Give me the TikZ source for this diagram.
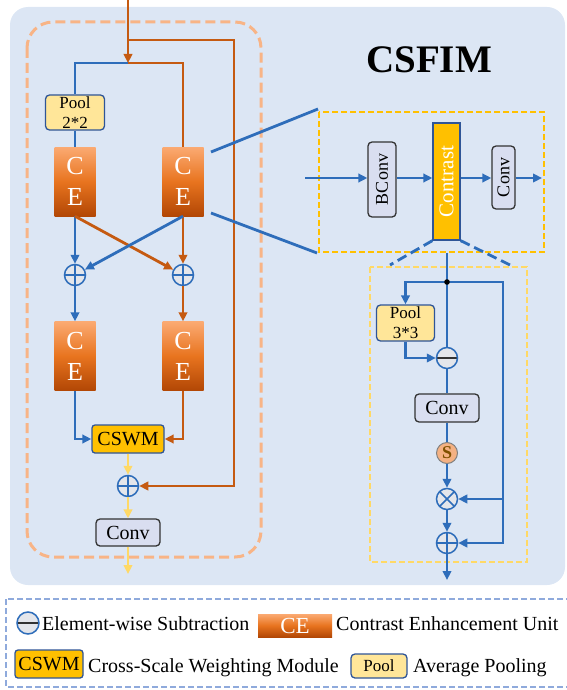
\documentclass[tikz,border=0pt]{standalone}
\usepackage{fontspec}
\setmainfont{Liberation Serif}
\usetikzlibrary{arrows.meta,calc}
\definecolor{bgblue}{HTML}{DCE6F4}
\definecolor{lblue}{HTML}{2E6DBA}
\definecolor{lorange}{HTML}{C55A11}
\definecolor{ylw}{HTML}{FFD966}
\definecolor{gold}{HTML}{FFC000}
\definecolor{dashor}{HTML}{F8B486}
\definecolor{legb}{HTML}{8FAADC}
\definecolor{poolF}{HTML}{FFE699}
\definecolor{boxB}{HTML}{2F5597}
\definecolor{convF}{HTML}{D9DEF0}
\definecolor{convB}{HTML}{333333}
\definecolor{circF}{HTML}{E4E6EB}
\definecolor{ceTop}{HTML}{FBAA72}
\definecolor{ceMid}{HTML}{E8741F}
\definecolor{ceBot}{HTML}{B24705}
\definecolor{sF}{HTML}{F4B183}
\definecolor{sT}{HTML}{7F5000}
\newcommand\fsz[2]{\fontsize{#1}{#2}\selectfont}
\begin{document}
\begin{tikzpicture}[x=1pt,y=-1pt,
  bline/.style={draw=lblue,line width=2.8pt},
  barrow/.style={bline,-{Triangle[length=9pt,width=8.5pt]}},
  oline/.style={draw=lorange,line width=2.8pt},
  oarrow/.style={oline,-{Triangle[length=9pt,width=8.5pt]}},
  yarrow/.style={draw=ylw,line width=2.8pt,-{Triangle[length=9pt,width=8.5pt]}},
  opcirc/.style={circle,draw=lblue,line width=1.5pt,fill=circF,minimum size=21pt,inner sep=0pt},
  plusop/.style={opcirc,path picture={\draw[lblue,line width=1.5pt]
     (path picture bounding box.north)--(path picture bounding box.south)
     (path picture bounding box.west)--(path picture bounding box.east);}},
  timesop/.style={opcirc,path picture={\draw[lblue,line width=1.5pt]
     (path picture bounding box.north west)--(path picture bounding box.south east)
     (path picture bounding box.south west)--(path picture bounding box.north east);}},
  minusop/.style={opcirc,path picture={\draw[convB,line width=1.8pt]
     (path picture bounding box.west)--(path picture bounding box.east);}},
  ceunit/.style={rectangle,inner sep=0pt,minimum width=41pt,minimum height=69pt,
     top color=ceTop,bottom color=ceBot,middle color=ceMid,text=white,align=center,font=\fsz{26}{31}},
  poolbox/.style={rectangle,rounded corners=4pt,draw=boxB,line width=1.3pt,fill=poolF,
     inner sep=0pt,align=center,font=\fsz{17}{20}},
  convbox/.style={rectangle,rounded corners=4pt,draw=convB,line width=1.3pt,fill=convF,
     inner sep=0pt,align=center,font=\fsz{20}{22}},
  goldbox/.style={rectangle,rounded corners=3pt,draw=boxB,line width=1.3pt,fill=gold,
     inner sep=0pt,align=center,font=\fsz{20}{22}},
  legtext/.style={anchor=base west,inner sep=0pt,font=\fsz{20}{22}}
]
\useasboundingbox (0,0) rectangle (566,690);
% backgrounds
\fill[bgblue,rounded corners=18pt] (10,7) rectangle (565,585);
\draw[dashor,line width=3pt,dash pattern=on 10pt off 5pt,rounded corners=26pt] (27,22) rectangle (261,557);
\draw[gold,line width=2pt,dash pattern=on 6pt off 3pt] (319,112) rectangle (544,252);
\draw[ylw,line width=2.2pt,dash pattern=on 6pt off 3pt] (370,267) rectangle (527,562);
\draw[legb,line width=2pt,dash pattern=on 6pt off 3pt] (6,599) rectangle (570,687);

% title
\node[anchor=base,inner sep=0pt,font=\fsz{39}{40}\bfseries] (title) at (429,73) {CSFIM};

% left module nodes
\node[poolbox,minimum width=59pt,minimum height=35pt] (pool22) at (75,112.5) {Pool\\2*2};
\node[ceunit] (ce1) at (75,181.5) {C\\E};
\node[ceunit] (ce2) at (183,181.5) {C\\E};
\node[plusop] (p1) at (75,275) {};
\node[plusop] (p2) at (183,275) {};
\node[ceunit] (ce3) at (75,356) {C\\E};
\node[ceunit] (ce4) at (183,356) {C\\E};
\node[goldbox,minimum width=72pt,minimum height=28pt] (cswm) at (128,439) {CSWM};
\node[plusop] (p3) at (128,486) {};
\node[convbox,minimum width=64pt,minimum height=27pt] (conv1) at (128,532.5) {Conv};

\coordinate (in) at (128,0);
\coordinate (split) at (128,40);
\coordinate (bypass) at (234,40);
\coordinate (j1) at (128,63);
\coordinate (out1) at (128,574);

\draw[oarrow] (in) -- (j1);
\draw[bline] (j1) -| (pool22.north);
\draw[oline] (j1) -| (ce2.north);
\draw[bline] (pool22.south) -- (ce1.north);
\draw[barrow] (ce1.south) -- (p1.north);
\draw[oarrow] (ce2.south) -- (p2.north);
\draw[oarrow] (ce1.south) -- (p2);
\draw[barrow] (ce2.south) -- (p1);
\draw[barrow] (p1.south) -- (ce3.north);
\draw[oarrow] (p2.south) -- (ce4.north);
\draw[barrow] (ce3.south) |- (cswm.west);
\draw[oarrow] (ce4.south) |- (cswm.east);
\draw[oarrow] (split) -- (bypass) |- (p3.east);
\draw[yarrow] (cswm.south) -- (p3.north);
\draw[yarrow] (p3.south) -- (conv1.north);
\draw[yarrow] (conv1.south) -- (out1);

% zoom lines
\coordinate (z1a) at (211,152); \coordinate (z1b) at (318,109);
\coordinate (z2a) at (211,213); \coordinate (z2b) at (317,253);
\draw[bline] (z1a) -- (z1b);
\draw[bline] (z2a) -- (z2b);

% contrast module
\node[convbox,minimum width=28pt,minimum height=75pt,font=\fsz{18}{20}] (bconv) at (382,179.5) {\rotatebox{90}{BConv}};
\node[rectangle,draw=boxB,line width=1.3pt,fill=gold,inner sep=0pt,minimum width=27pt,minimum height=117pt,text=white,font=\fsz{21}{22}] (contrast) at (446.5,181.5) {\rotatebox{90}{Contrast}};
\node[convbox,minimum width=23pt,minimum height=63pt,font=\fsz{18}{20}] (conv2) at (503.5,177.5) {\rotatebox{90}{Conv}};
\coordinate (cin) at (305,178);
\coordinate (cout) at (542,178);
\draw[barrow] (cin) -- (cin -| bconv.west);
\draw[barrow] (bconv.east |- cin) -- (contrast.west |- cin);
\draw[barrow] (contrast.east |- cin) -- (conv2.west |- cin);
\draw[barrow] (conv2.east |- cin) -- (cout);

% dashed zoom lines
\coordinate (d1) at (390,265); \coordinate (d2) at (510,265);
\draw[lblue,line width=2.8pt,dash pattern=on 10pt off 5pt] (contrast.south west) -- (d1);
\draw[lblue,line width=2.8pt,dash pattern=on 10pt off 5pt] (contrast.south east) -- (d2);

% lower module
\node[poolbox,minimum width=58pt,minimum height=36pt] (pool33) at (405.5,323) {Pool\\3*3};
\node[minusop] (mn) at (447,358) {};
\node[convbox,minimum width=64pt,minimum height=28pt] (conv3) at (447,408) {Conv};
\node[circle,draw=gray,line width=1pt,fill=sF,minimum size=21pt,inner sep=0pt,text=sT,font=\fsz{18}{20}\bfseries] (sig) at (447,453) {S};
\node[timesop] (tm) at (447,499) {};
\node[plusop] (p4) at (447,543) {};
\coordinate (cst) at (447,253);
\coordinate (dot) at (447,282);
\coordinate (rc) at (503,282);
\coordinate (rt) at (503,499);
\coordinate (out2) at (447,580);

\draw[bline] (cst) -- (mn.north);
\draw[barrow] (dot) -| (pool33.north);
\draw[barrow] (pool33.south) |- (mn.west);
\draw[barrow] (dot) -- (rc) |- (p4.east);
\draw[barrow] (rt) -- (tm.east);
\draw[bline] (mn.south) -- (conv3.north);
\draw[bline] (conv3.south) -- (sig.north);
\draw[barrow] (sig.south) -- (tm.north);
\draw[barrow] (tm.south) -- (p4.north);
\draw[barrow] (p4.south) -- (out2);
\fill[black] (dot) circle (2.8pt);

% legend
\node[minusop,minimum size=22pt] (lm) at (28,623) {};
\node[legtext] (lt1) at (42,630) {Element-wise Subtraction};
\node[ceunit,minimum width=74pt,minimum height=23pt,font=\fsz{23}{24}] (lce) at (295,625.5) {CE};
\node[legtext] (lt2) at (336,630) {Contrast Enhancement Unit};
\node[goldbox,minimum width=68pt,minimum height=28pt] (lcswm) at (49,664) {CSWM};
\node[legtext] (lt3) at (88,672) {Cross-Scale Weighting Module};
\node[poolbox,minimum width=56pt,minimum height=24pt] (lpool) at (379,666) {Pool};
\node[legtext] (lt4) at (413,672) {Average Pooling};
\end{tikzpicture}
\end{document}
